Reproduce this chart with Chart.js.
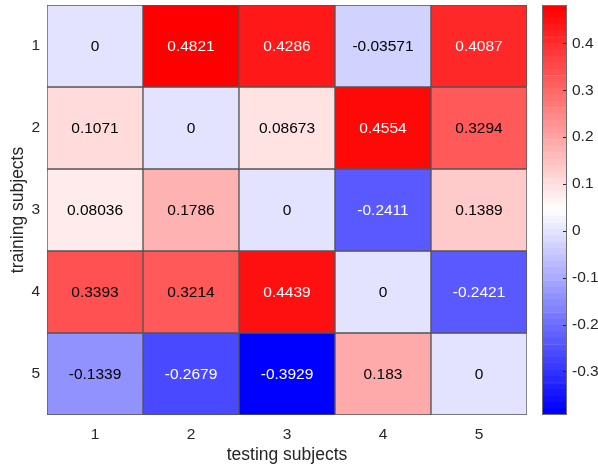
<!DOCTYPE html>
<html>
<head>
<meta charset="utf-8">
<script src="https://cdn.jsdelivr.net/npm/chart.js@4"></script>
<style>
  body { margin: 0; background: #fff; }
  #heat { position: absolute; left: 0; top: 0; }
  #cbar { position: absolute; left: 530px; top: 0; }
</style>
</head>
<body>
<canvas id="heat" width="598" height="470"></canvas>
<canvas id="cbar" width="68" height="470"></canvas>
<script>
// Data definitions
const testLabels = ['1', '2', '3', '4', '5'];
const trainLabels = ['1', '2', '3', '4', '5'];
const row1 = [0, 0.4821, 0.4286, -0.03571, 0.4087];
const row2 = [0.1071, 0, 0.08673, 0.4554, 0.3294];
const row3 = [0.08036, 0.1786, 0, -0.2411, 0.1389];
const row4 = [0.3393, 0.3214, 0.4439, 0, -0.2421];
const row5 = [-0.1339, -0.2679, -0.3929, 0.183, 0];
const cbarTicks = [-0.3, -0.2, -0.1, 0, 0.1, 0.2, 0.3, 0.4];

const rows = [row1, row2, row3, row4, row5];
const allVals = rows.flat();
const cmin = Math.min(...allVals);
const cmax = Math.max(...allVals);
const nLevels = 64;
const textColor = '#262626';
const gridColor = '#555555';
const fontFam = '"Liberation Sans", Arial, Helvetica, sans-serif';

// blue - white - red colormap
function levelRgb(i) {
  const t = i / (nLevels - 1);
  if (t < 0.5) {
    const c = Math.round(510 * t);
    return [c, c, 255];
  }
  const c = Math.round(510 * (1 - t));
  return [255, c, c];
}
function levelOf(v) {
  return Math.max(0, Math.min(nLevels - 1, Math.floor((v - cmin) / (cmax - cmin) * nLevels)));
}
function rgbStr(c) { return 'rgb(' + c[0] + ',' + c[1] + ',' + c[2] + ')'; }
function cellColor(v) { return rgbStr(levelRgb(levelOf(v))); }
function labelColor(v) {
  const c = levelRgb(levelOf(v));
  const lum = 0.299 * c[0] + 0.587 * c[1] + 0.114 * c[2];
  return lum < 120 ? '#ffffff' : '#000000';
}

// Cell value labels
const cellTextPlugin = {
  id: 'cellText',
  afterDatasetsDraw(chart) {
    const ctx = chart.ctx;
    ctx.save();
    ctx.font = '15.5px ' + fontFam;
    ctx.textAlign = 'center';
    ctx.textBaseline = 'middle';
    chart.data.datasets.forEach((ds, di) => {
      chart.getDatasetMeta(di).data.forEach((el, i) => {
        const v = ds.values[i];
        ctx.fillStyle = labelColor(v);
        ctx.fillText(String(v), el.x, (el.y + el.base) / 2 + 1);
      });
    });
    ctx.restore();
  }
};

const heatChart = new Chart(document.getElementById('heat').getContext('2d'), {
  type: 'bar',
  data: {
    labels: testLabels,
    datasets: rows.map((vals, r) => ({
      data: vals.map(() => [r + 0.5, r + 1.5]),
      values: vals,
      backgroundColor: vals.map(v => cellColor(v)),
      borderColor: gridColor,
      borderWidth: 1,
      borderSkipped: false,
      grouped: false,
      barPercentage: 1,
      categoryPercentage: 1
    }))
  },
  options: {
    responsive: false,
    animation: false,
    layout: { padding: { left: 0, top: 5, right: 71, bottom: 0 } },
    plugins: { legend: { display: false }, tooltip: { enabled: false } },
    scales: {
      x: {
        grid: { display: false, drawTicks: false },
        border: { display: false },
        ticks: { color: textColor, font: { size: 15.5, family: fontFam }, padding: 10 },
        title: { display: true, text: 'testing subjects', color: textColor, font: { size: 17.5, family: fontFam }, padding: { top: 0, bottom: 4 } },
        afterFit(scale) { scale.height = 55; scale.paddingLeft = 0; scale.paddingRight = 0; }
      },
      y: {
        type: 'linear',
        reverse: true,
        min: 0.5,
        max: 5.5,
        grid: { display: false, drawTicks: false },
        border: { display: false },
        afterBuildTicks(scale) { scale.ticks = trainLabels.map((l, i) => ({ value: i + 1 })); },
        ticks: {
          color: textColor,
          font: { size: 15.5, family: fontFam },
          padding: 7,
          callback: v => trainLabels[v - 1]
        },
        title: { display: true, text: 'training subjects', color: textColor, font: { size: 17.5, family: fontFam }, padding: { top: 8, bottom: 0 } },
        afterFit(scale) { scale.width = 47; scale.paddingTop = 0; scale.paddingBottom = 0; }
      }
    }
  },
  plugins: [cellTextPlugin]
});

// Colorbar
const cbarFrame = {
  id: 'cbarFrame',
  afterDraw(chart) {
    const ctx = chart.ctx;
    const a = chart.chartArea;
    const ys = chart.scales.y;
    ctx.save();
    ctx.strokeStyle = '#6e6e6e';
    ctx.lineWidth = 1;
    ctx.strokeRect(Math.round(a.left) + 0.5, Math.round(a.top) + 0.5, Math.round(a.right - a.left) - 1, Math.round(a.bottom - a.top) - 1);
    ctx.strokeStyle = '#262626';
    cbarTicks.forEach(t => {
      const y = Math.round(ys.getPixelForValue(t)) + 0.5;
      ctx.beginPath();
      ctx.moveTo(a.right - 4, y);
      ctx.lineTo(a.right - 1, y);
      ctx.stroke();
    });
    ctx.restore();
  }
};

const levels = Array.from({ length: nLevels }, (_, i) => i);
const cbarChart = new Chart(document.getElementById('cbar').getContext('2d'), {
  type: 'bar',
  data: {
    labels: [''],
    datasets: levels.map(i => ({
      data: [[cmin + (cmax - cmin) * i / nLevels, cmin + (cmax - cmin) * (i + 1) / nLevels]],
      backgroundColor: rgbStr(levelRgb(i)),
      borderColor: rgbStr(levelRgb(i)),
      borderWidth: 0.5,
      borderSkipped: false,
      grouped: false,
      barPercentage: 1,
      categoryPercentage: 1
    }))
  },
  options: {
    responsive: false,
    animation: false,
    layout: { padding: { left: 12, top: 5, right: 0, bottom: 55 } },
    plugins: { legend: { display: false }, tooltip: { enabled: false } },
    scales: {
      x: { display: false },
      y: {
        type: 'linear',
        position: 'right',
        min: cmin,
        max: cmax,
        grid: { display: false, drawTicks: false },
        border: { display: false },
        afterBuildTicks(scale) { scale.ticks = cbarTicks.map(v => ({ value: v })); },
        ticks: {
          color: textColor,
          font: { size: 15.5, family: fontFam },
          padding: 5,
          callback: v => String(Math.round(v * 10) / 10)
        },
        afterFit(scale) { scale.width = 31; scale.paddingTop = 0; scale.paddingBottom = 0; }
      }
    }
  },
  plugins: [cbarFrame]
});
</script>
</body>
</html>
